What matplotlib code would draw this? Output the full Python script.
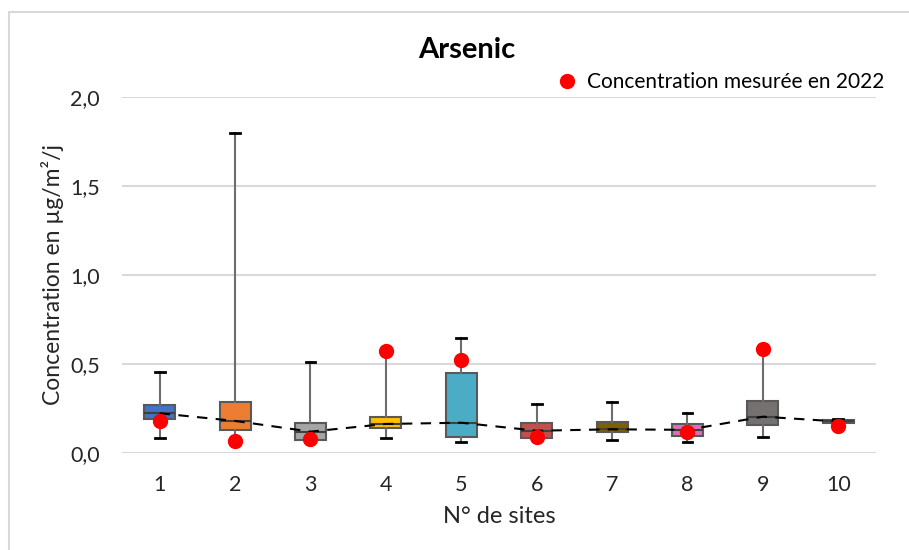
import numpy as np
import matplotlib.pyplot as plt
from matplotlib.patches import Rectangle

plt.rcParams['font.family'] = ['Lato', 'DejaVu Sans']

sites = ['1', '2', '3', '4', '5', '6', '7', '8', '9', '10']
whis_lo = [0.086, 0.070, 0.070, 0.086, 0.062, 0.080, 0.075, 0.062, 0.088, 0.170]
q1 = [0.190, 0.129, 0.073, 0.139, 0.088, 0.086, 0.116, 0.096, 0.159, 0.170]
med = [0.223, 0.180, 0.120, 0.163, 0.170, 0.125, 0.133, 0.130, 0.204, 0.177]
q3 = [0.268, 0.288, 0.170, 0.204, 0.449, 0.170, 0.172, 0.161, 0.290, 0.185]
whis_hi = [0.457, 1.800, 0.511, 0.575, 0.648, 0.275, 0.288, 0.227, 0.586, 0.193]
mes_2022 = [0.180, 0.066, 0.077, 0.575, 0.520, 0.088, np.nan, 0.118, 0.586, 0.152]
box_colors = ['#4472c4', '#ed7d31', '#a5a5a5', '#ffc000', '#4bacc6',
              '#c0504d', '#7f6000', '#db6fb9', '#767171', '#595959']

fig = plt.figure(figsize=(9.09, 5.5), dpi=100)
ax = fig.add_axes([0.1342, 0.1764, 0.8295, 0.6472])

# chart frame (only top and left edges fall inside the image)
fig.patches.append(Rectangle((9/909, -0.1), 1.2, 1.1 - 12/550, transform=fig.transFigure,
                             fill=False, edgecolor='#d9d9d9', lw=1.5, zorder=0))

pos = np.arange(1, len(sites) + 1)
stats = []
for i in range(len(sites)):
    stats.append(dict(whislo=whis_lo[i], q1=q1[i], med=med[i], q3=q3[i],
                      whishi=whis_hi[i], fliers=[]))

bp = ax.bxp(stats, positions=pos, widths=0.41, patch_artist=True, showfliers=False,
            capwidths=0.13,
            boxprops=dict(edgecolor='#595959', linewidth=1.5),
            medianprops=dict(color='#404040', linewidth=1.5),
            whiskerprops=dict(color='#6d6d6d', linewidth=1.5),
            capprops=dict(color='black', linewidth=2))
for patch, c in zip(bp['boxes'], box_colors):
    patch.set_facecolor(c)

ax.plot(pos, med, '--', color='black', lw=1.5, dashes=(5, 4), zorder=4)
ax.plot(pos, mes_2022, 'o', color='#ff0000', markersize=10, linestyle='none',
        zorder=5, label='Concentration mesurée en 2022')

ax.set_xlim(0.5, 10.5)
ax.set_ylim(0, 2.0)
yt = [0, 0.5, 1.0, 1.5, 2.0]
ax.set_yticks(yt)
ax.set_yticklabels([f'{v:.1f}'.replace('.', ',') for v in yt])
ax.set_xticks(pos)
ax.set_xticklabels(sites)
ax.tick_params(axis='both', length=0, labelsize=15.5, colors='#262626')
ax.tick_params(axis='x', pad=16)
ax.tick_params(axis='y', pad=16)
ax.grid(axis='y', color='#d9d9d9', lw=1.5)
ax.set_axisbelow(True)
for s in ax.spines.values():
    s.set_visible(False)

ax.set_xlabel('N° de sites', fontsize=17, color='#262626', labelpad=8)
ax.set_ylabel('Concentration en µg/m²/j', fontsize=16.5, color='#262626', labelpad=4)
fig.text(0.513, 0.909, 'Arsenic', ha='center', va='center', fontsize=21, fontweight='bold')

fig.legend(loc='center right', bbox_to_anchor=(0.993, 0.851), frameon=False, fontsize=15,
           handletextpad=0.35, markerscale=1.0, handlelength=1.2)

fig.savefig('out.png', dpi=100)
